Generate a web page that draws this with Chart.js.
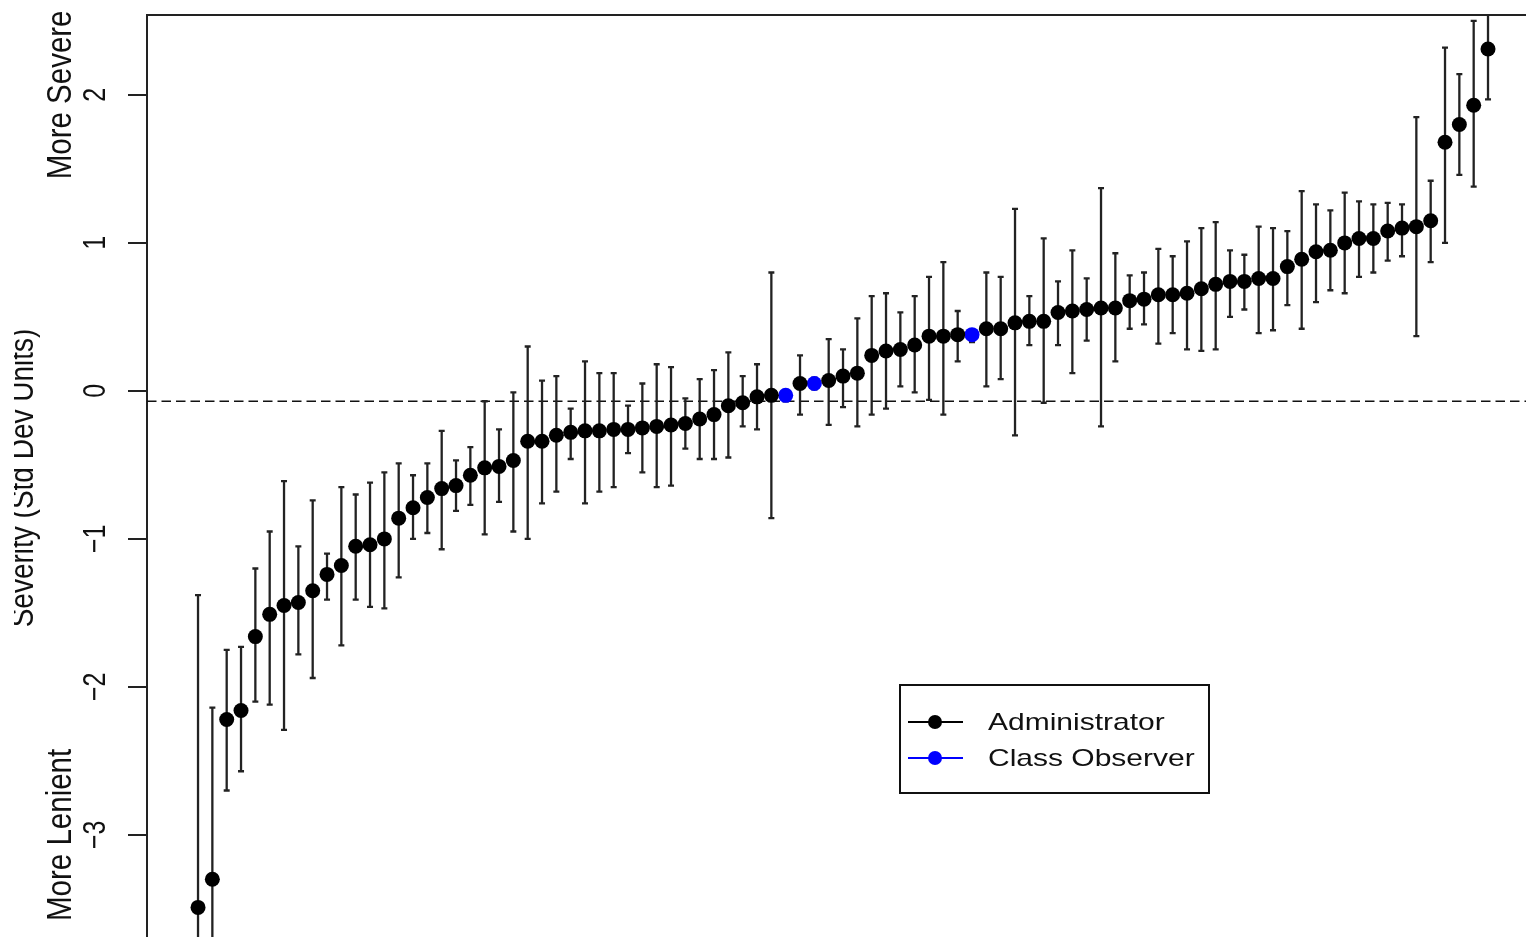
<!DOCTYPE html>
<html>
<head>
<meta charset="utf-8">
<script src="https://cdn.jsdelivr.net/npm/chart.js@4.4.0/dist/chart.umd.min.js"></script>
<style>
  html, body { margin: 0; padding: 0; background: #fff; }
</style>
</head>
<body>
<canvas id="sevChart" width="1526" height="937"></canvas>
<script>
// rater estimates, sorted, with interval ends (std dev units)
const severity = [
  -3.49, -3.30, -2.22, -2.16, -1.66, -1.51, -1.45, -1.43, -1.35, -1.24,
  -1.18, -1.05, -1.04, -1.00, -0.86, -0.79, -0.72, -0.66, -0.64, -0.57,
  -0.52, -0.51, -0.47, -0.34, -0.34, -0.30, -0.28, -0.27, -0.27, -0.26,
  -0.26, -0.25, -0.24, -0.23, -0.22, -0.19, -0.16, -0.10, -0.08, -0.04,
  -0.03, -0.03, 0.05, 0.05, 0.07, 0.10, 0.12, 0.24, 0.27, 0.28,
  0.31, 0.37, 0.37, 0.38, 0.38, 0.42, 0.42, 0.46, 0.47, 0.47,
  0.53, 0.54, 0.55, 0.56, 0.56, 0.61, 0.62, 0.65, 0.65, 0.66,
  0.69, 0.72, 0.74, 0.74, 0.76, 0.76, 0.84, 0.89, 0.94, 0.95,
  1.00, 1.03, 1.03, 1.08, 1.10, 1.11, 1.15, 1.68, 1.80, 1.93,
  2.31
];
const upper = [
  -1.38, -2.14, -1.75, -1.73, -1.20, -0.95, -0.61, -1.05, -0.74, -1.10,
  -0.65, -0.70, -0.62, -0.55, -0.49, -0.57, -0.49, -0.27, -0.47, -0.38,
  -0.07, -0.26, -0.01, 0.30, 0.07, 0.10, -0.12, 0.20, 0.12, 0.12,
  -0.10, 0.05, 0.18, 0.16, -0.05, 0.08, 0.14, 0.26, 0.10, 0.18,
  0.80, 0.00, 0.24, 0.09, 0.35, 0.28, 0.49, 0.64, 0.66, 0.53,
  0.64, 0.77, 0.87, 0.54, 0.41, 0.80, 0.77, 1.23, 0.64, 1.03,
  0.74, 0.95, 0.76, 1.37, 0.93, 0.78, 0.80, 0.96, 0.91, 1.01,
  1.10, 1.14, 0.95, 0.92, 1.11, 1.10, 1.08, 1.35, 1.26, 1.22,
  1.34, 1.28, 1.26, 1.27, 1.26, 1.85, 1.42, 2.32, 2.14, 2.50,
  2.65
];
const lower = [
  -5.61, -4.47, -2.70, -2.57, -2.10, -2.12, -2.29, -1.78, -1.94, -1.41,
  -1.72, -1.41, -1.46, -1.47, -1.26, -1.00, -0.96, -1.07, -0.81, -0.77,
  -0.97, -0.75, -0.95, -1.00, -0.76, -0.68, -0.46, -0.76, -0.68, -0.65,
  -0.42, -0.55, -0.65, -0.64, -0.39, -0.46, -0.46, -0.45, -0.24, -0.26,
  -0.86, -0.07, -0.16, 0.01, -0.23, -0.11, -0.24, -0.16, -0.12, 0.03,
  -0.01, -0.06, -0.16, 0.20, 0.33, 0.03, 0.08, -0.30, 0.31, -0.08,
  0.31, 0.12, 0.34, -0.24, 0.20, 0.42, 0.45, 0.32, 0.39, 0.28,
  0.27, 0.28, 0.50, 0.55, 0.39, 0.41, 0.58, 0.42, 0.60, 0.68,
  0.66, 0.77, 0.80, 0.88, 0.91, 0.37, 0.87, 1.00, 1.46, 1.38,
  1.97
];
// 1-based positions of the class observers, the rest are administrators
const observerRaters = [42, 44, 55];
const refLine = -0.07;

const yTicks = [-3, -2, -1, 0, 1, 2];
const yTickLabels = ["\u22123", "\u22122", "\u22121", "0", "1", "2"];
const yTitle = "Severity (Std Dev Units)";
const topNote = "More Severe";
const bottomNote = "More Lenient";
const seriesNames = ["Administrator", "Class Observer"];
const seriesColors = ["#000000", "#0000ff"];

const adminPts = [], obsPts = [];
severity.forEach((v, i) => {
  const pt = { x: i + 1, y: v };
  if (observerRaters.includes(i + 1)) obsPts.push(pt);
  else adminPts.push(pt);
});

const FONT = '"Liberation Sans", Arial, sans-serif';

// text squeezed a bit narrow in the source, so stretch sideways
function rotText(ctx, txt, x, y, size, sx) {
  ctx.save();
  ctx.translate(x, y);
  ctx.scale(sx, 1);
  ctx.rotate(-Math.PI / 2);
  ctx.font = size + "px " + FONT;
  ctx.textAlign = "center";
  ctx.textBaseline = "alphabetic";
  ctx.fillText(txt, 0, 0);
  ctx.restore();
}

const errorBars = {
  id: "errorBars",
  beforeDatasetsDraw(chart) {
    const { ctx, chartArea: a, scales } = chart;
    const x = scales.x, y = scales.y;
    ctx.save();
    ctx.beginPath();
    ctx.rect(a.left, a.top, a.right - a.left, a.bottom - a.top);
    ctx.clip();

    ctx.strokeStyle = "#111";
    ctx.lineWidth = 1.6;
    ctx.setLineDash([9.5, 5]);
    const ry = y.getPixelForValue(refLine);
    ctx.beginPath();
    ctx.moveTo(a.left, ry);
    ctx.lineTo(a.right, ry);
    ctx.stroke();
    ctx.setLineDash([]);

    ctx.strokeStyle = "#222";
    ctx.lineWidth = 2.3;
    severity.forEach((v, i) => {
      const px = x.getPixelForValue(i + 1);
      const top = y.getPixelForValue(upper[i]);
      const bot = y.getPixelForValue(lower[i]);
      ctx.beginPath();
      ctx.moveTo(px, top); ctx.lineTo(px, bot);
      ctx.moveTo(px - 3, top); ctx.lineTo(px + 3, top);
      ctx.moveTo(px - 3, bot); ctx.lineTo(px + 3, bot);
      ctx.stroke();
    });
    ctx.restore();
  }
};

const frameAndText = {
  id: "frameAndText",
  afterDraw(chart) {
    const { ctx, chartArea: a, scales } = chart;
    const y = scales.y;
    ctx.save();
    // top edge of the box
    ctx.strokeStyle = "#222";
    ctx.lineWidth = 2;
    ctx.beginPath();
    ctx.moveTo(a.left - 1, a.top);
    ctx.lineTo(a.right, a.top);
    ctx.stroke();

    ctx.fillStyle = "#111";
    yTicks.forEach((v, i) => {
      rotText(ctx, yTickLabels[i], 105, y.getPixelForValue(v), 25, 1.27);
    });
    rotText(ctx, topNote, 71, y.getPixelForValue(2), 29.5, 1.22);
    rotText(ctx, bottomNote, 71, y.getPixelForValue(-3), 29.5, 1.22);

    // axis title is cut off at its top in the source
    ctx.save();
    ctx.beginPath();
    ctx.rect(14, 0, 60, chart.height);
    ctx.clip();
    rotText(ctx, yTitle, 33, 478, 28, 1.2);
    ctx.restore();

    // legend box
    const lx = 900, ly = 685, lw = 309, lh = 108;
    ctx.fillStyle = "#fff";
    ctx.fillRect(lx, ly, lw, lh);
    ctx.strokeStyle = "#111";
    ctx.lineWidth = 2;
    ctx.strokeRect(lx, ly, lw, lh);
    seriesNames.forEach((name, i) => {
      const cy = 722 + i * 36;
      ctx.strokeStyle = seriesColors[i];
      ctx.lineWidth = 2;
      ctx.beginPath();
      ctx.moveTo(908, cy);
      ctx.lineTo(963, cy);
      ctx.stroke();
      ctx.fillStyle = seriesColors[i];
      ctx.beginPath();
      ctx.arc(935, cy, 7, 0, Math.PI * 2);
      ctx.fill();
      ctx.save();
      ctx.translate(988, cy + 8);
      ctx.scale(1.25, 1);
      ctx.fillStyle = "#111";
      ctx.font = "24px " + FONT;
      ctx.textBaseline = "alphabetic";
      ctx.fillText(name, 0, 0);
      ctx.restore();
    });
    ctx.restore();
  }
};

new Chart(document.getElementById("sevChart"), {
  type: "scatter",
  data: {
    datasets: [
      {
        label: seriesNames[0],
        data: adminPts,
        backgroundColor: seriesColors[0],
        borderWidth: 0,
        pointRadius: 7.5,
      },
      {
        label: seriesNames[1],
        data: obsPts,
        backgroundColor: seriesColors[1],
        borderWidth: 0,
        pointRadius: 7.5,
      },
    ],
  },
  options: {
    responsive: false,
    animation: false,
    events: [],
    layout: { autoPadding: false, padding: { top: 15, left: 0, right: 0, bottom: 0 } },
    scales: {
      x: {
        type: "linear",
        display: false,
        min: -2.56,
        max: 93.65,
      },
      y: {
        type: "linear",
        min: -3.69,
        max: 2.54,
        afterBuildTicks: (s) => {
          s.ticks = yTicks.map((v) => ({ value: v }));
        },
        afterFit: (s) => {
          s.width = 147;
        },
        ticks: { display: false },
        grid: {
          drawOnChartArea: false,
          drawTicks: true,
          tickLength: 19,
          color: "#222",
          lineWidth: 2,
        },
        border: { display: true, color: "#222", width: 2 },
      },
    },
    plugins: {
      legend: { display: false },
      tooltip: { enabled: false },
    },
  },
  plugins: [errorBars, frameAndText],
});
</script>
</body>
</html>
